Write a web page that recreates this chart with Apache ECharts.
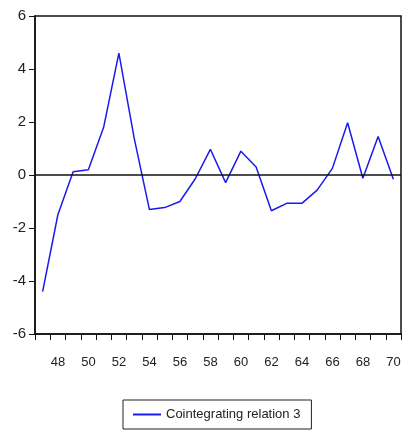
<!DOCTYPE html>
<html>
<head>
<meta charset="utf-8">
<style>
	html, body { margin: 0; padding: 0; background: #fff; }
	#main { width: 405px; height: 433px; }
</style>
<script src="https://cdn.jsdelivr.net/npm/echarts@6/dist/echarts.min.js"></script>
</head>
<body>
<div id="main"></div>
<script>
	// years 1947-1970, shown as two-digit labels
	var years = ['47', '48', '49', '50', '51', '52', '53', '54', '55', '56', '57', '58',
		'59', '60', '61', '62', '63', '64', '65', '66', '67', '68', '69', '70'];
	var relation3 = [-4.4, -1.5, 0.12, 0.2, 1.8, 4.6, 1.4, -1.3, -1.23, -1.0, -0.15, 0.97,
		-0.29, 0.9, 0.3, -1.35, -1.07, -1.07, -0.57, 0.25, 1.97, -0.12, 1.45, -0.16];
	var yTicks = [-6, -4, -2, 0, 2, 4, 6];

	var font = '"Liberation Sans Narrow", "Liberation Sans", Arial, sans-serif';

	var myChart = echarts.init(document.getElementById('main'));

	var option = {
		animation: false,
		grid: {
			left: 35,
			top: 16,
			right: 4,
			bottom: 99,
			show: true,
			borderColor: '#111',
			borderWidth: 1.5
		},
		legend: {
			data: ['Cointegrating relation 3'],
			left: 123,
			top: 400,
			borderColor: '#222',
			borderWidth: 1,
			padding: [8, 11, 8, 10],
			itemWidth: 28,
			itemHeight: 2,
			itemGap: 4,
			icon: 'rect',
			textStyle: {
				fontFamily: font,
				fontSize: 13,
				color: '#222'
			}
		},
		xAxis: {
			type: 'category',
			boundaryGap: true,
			data: years,
			axisLine: { onZero: false, lineStyle: { color: '#111', width: 1.5 } },
			axisTick: { show: true, interval: 0, length: 6, lineStyle: { color: '#111' } },
			axisLabel: {
				interval: function (index) { return index % 2 === 1; },
				margin: 22,
				fontFamily: font,
				fontSize: 13,
				color: '#222'
			},
			splitLine: { show: false }
		},
		yAxis: {
			type: 'value',
			min: yTicks[0],
			max: yTicks[yTicks.length - 1],
			interval: 2,
			axisLine: { show: true, lineStyle: { color: '#111', width: 1.5 } },
			axisTick: { show: true, length: 6, lineStyle: { color: '#111' } },
			axisLabel: {
				margin: 9,
				fontFamily: font,
				fontSize: 15,
				color: '#222'
			},
			splitLine: { show: false }
		},
		series: [{
			name: 'Cointegrating relation 3',
			type: 'line',
			data: relation3,
			symbol: 'none',
			lineStyle: { color: '#1a1aee', width: 1.5 },
			itemStyle: { color: '#1a1aee' },
			markLine: {
				silent: true,
				symbol: 'none',
				label: { show: false },
				lineStyle: { color: '#111', type: 'solid', width: 1.5 },
				data: [{ yAxis: 0 }]
			}
		}]
	};

	myChart.setOption(option);
</script>
</body>
</html>
